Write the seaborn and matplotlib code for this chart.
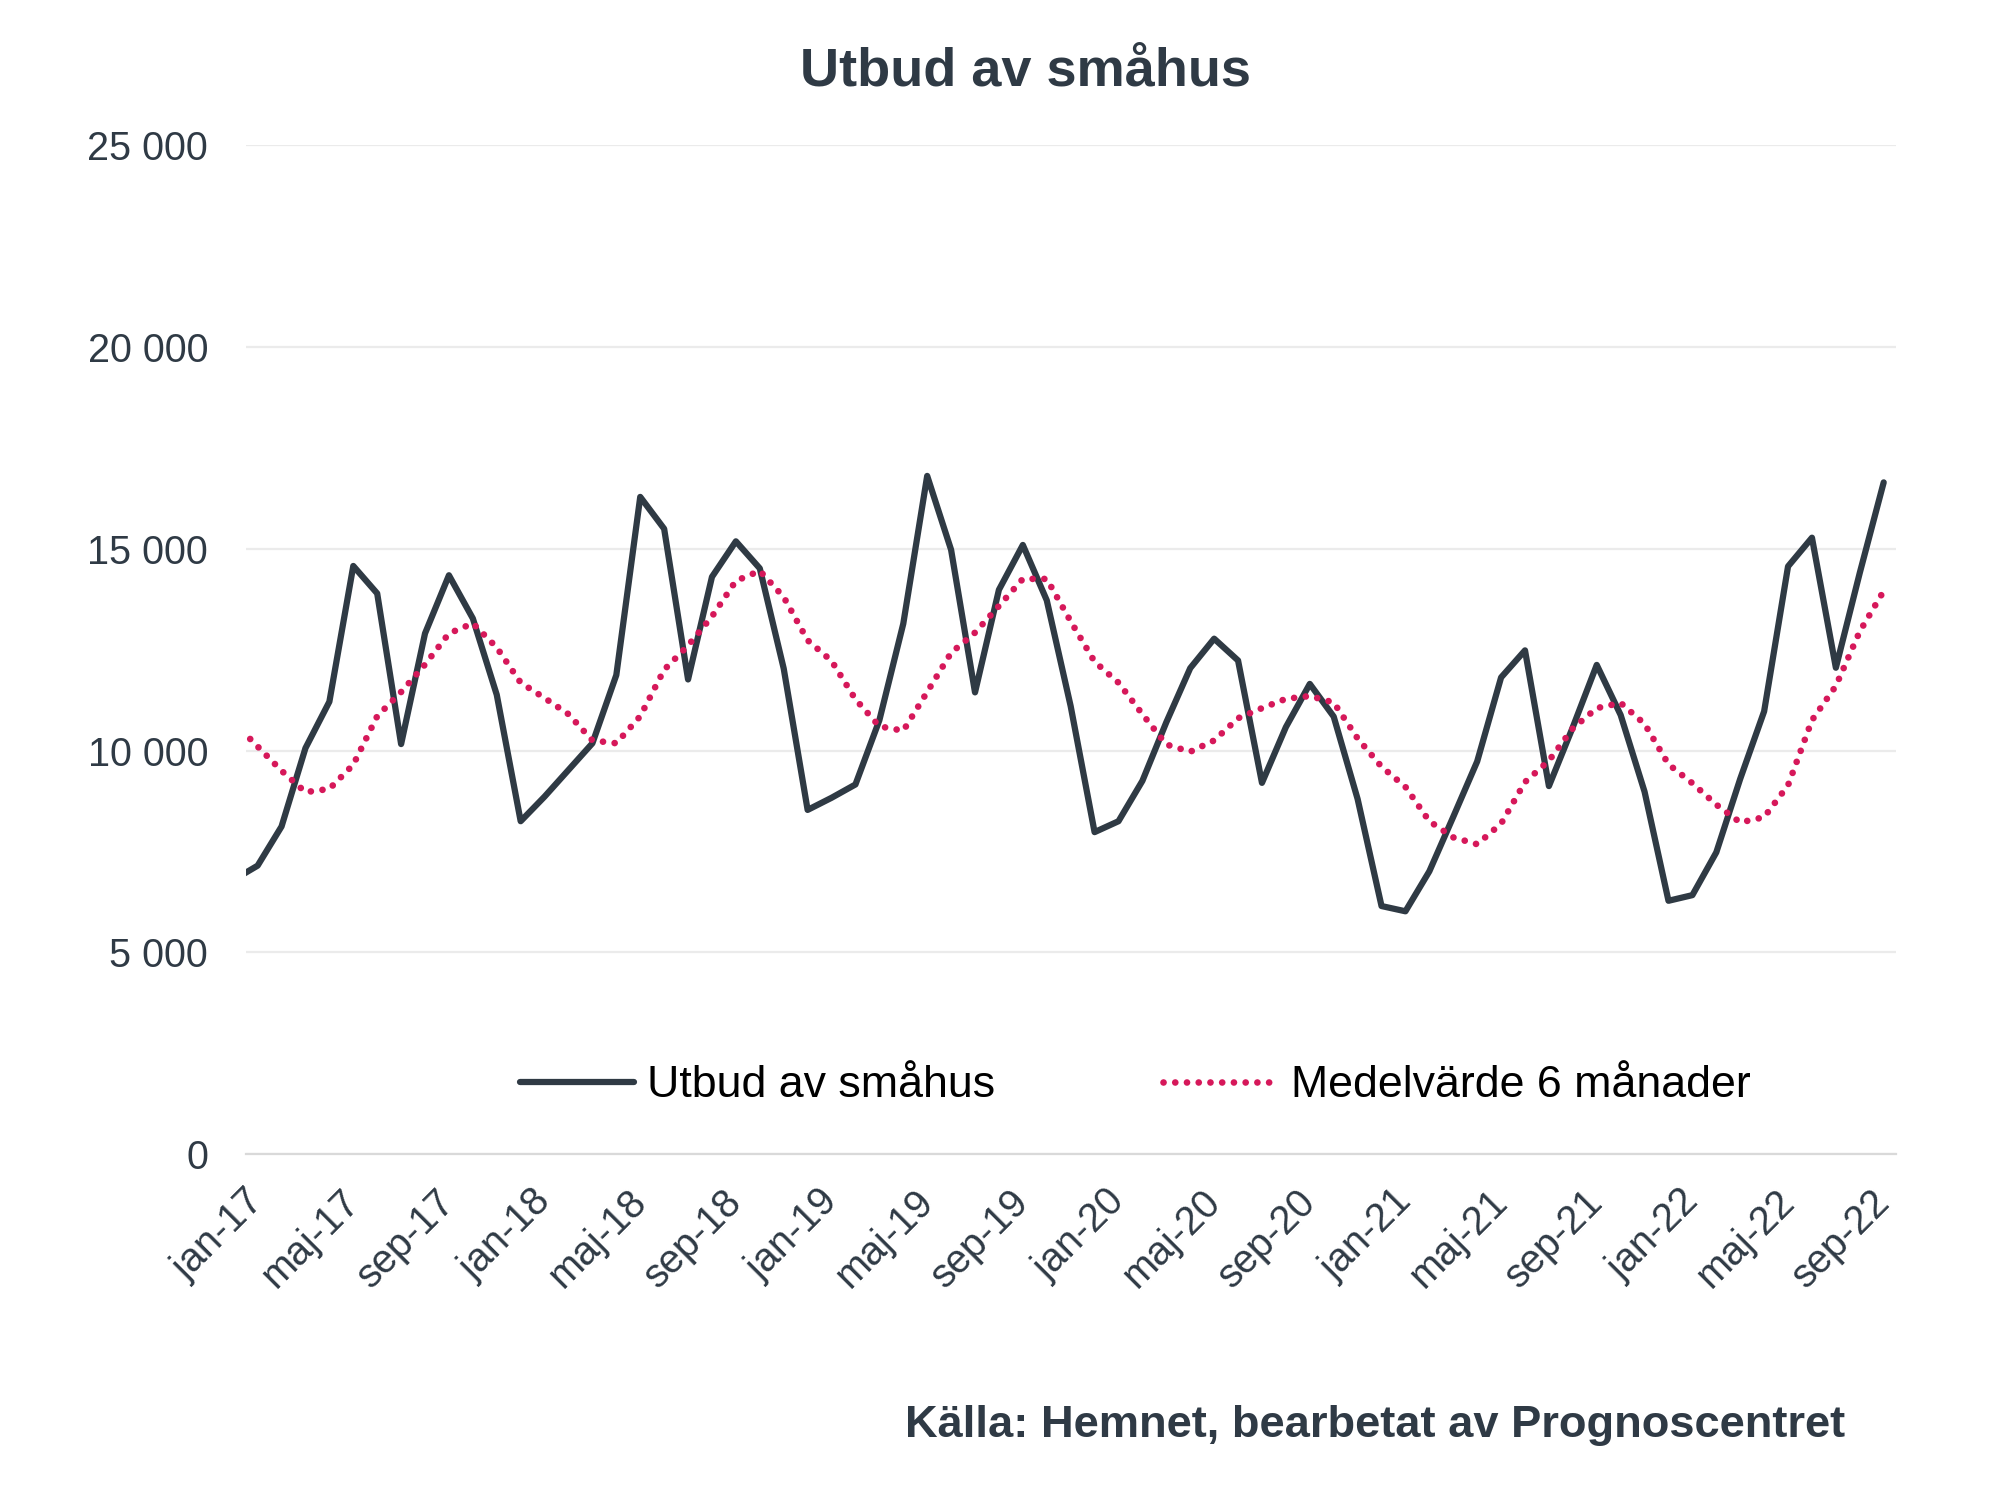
import matplotlib
matplotlib.use("Agg")
import matplotlib.pyplot as plt
import seaborn as sns
import pandas as pd

# Månader dec-16 .. sep-22 (dec-16 ligger utanför vänsterkanten och klipps)
month_names = ["jan", "feb", "mar", "apr", "maj", "jun",
               "jul", "aug", "sep", "okt", "nov", "dec"]
months = ["dec-16"] + [f"{m}-{y}" for y in range(17, 23) for m in month_names]
months = months[:70]

# Utbud av småhus
utbud = [
    6800,
    7150, 8120, 10060, 11210, 14570, 13890, 10160, 12900, 14340, 13270, 11380, 8250,
    8860, 9520, 10180, 11870, 16280, 15490, 11760, 14300, 15180, 14510, 12030, 8530,
    8830, 9160, 10750, 13140, 16800, 14970, 11440, 13980, 15090, 13720, 11100, 7980,
    8250, 9250, 10700, 12040, 12770, 12230, 9200, 10580, 11650, 10840, 8800, 6150,
    6020, 7010, 8360, 9730, 11810, 12480, 9120, 10580, 12120, 10880, 8980, 6280,
    6420, 7480, 9300, 10970, 14560, 15270, 12050, 14400, 16640,
]

# Medelvärde 6 månader
medel = [
    10700,
    10100, 9500, 8970, 9050, 9650, 10850, 11450, 12130, 12900, 13150, 12550, 11680,
    11300, 10900, 10250, 10180, 10850, 12000, 12600, 13320, 14200, 14450, 13800, 12730,
    12220, 11270, 10600, 10490, 11450, 12420, 12920, 13580, 14250, 14250, 13200, 12200,
    11680, 10900, 10150, 9970, 10250, 10800, 11050, 11280, 11350, 11190, 10300, 9600,
    9100, 8250, 7850, 7680, 8190, 9220, 9750, 10550, 11050, 11180, 10660, 9660,
    9190, 8660, 8220, 8350, 9140, 10750, 11600, 12950, 13950,
]

tick_labels = ["jan-17", "maj-17", "sep-17", "jan-18", "maj-18", "sep-18",
               "jan-19", "maj-19", "sep-19", "jan-20", "maj-20", "sep-20",
               "jan-21", "maj-21", "sep-21", "jan-22", "maj-22", "sep-22"]
y_ticks = [0, 5000, 10000, 15000, 20000, 25000]

text_color = "#2f3a45"
line_color = "#2f3a44"
dot_color = "#d6185a"
dot_style = (0, (0.01, 1.75))

df = pd.DataFrame({"pos": range(len(months)), "month": months,
                   "utbud": utbud, "medel": medel})

sns.set_style("white")
plt.rcParams["font.family"] = ["Liberation Sans", "DejaVu Sans"]

fig = plt.figure(figsize=(19.99, 14.89), dpi=100)
ax = fig.add_axes([0.1229, 0.2247, 0.8254, 0.6781])

sns.lineplot(data=df, x="pos", y="utbud", ax=ax, color=line_color,
             linewidth=4.5, label="Utbud av småhus")
sns.lineplot(data=df, x="pos", y="medel", ax=ax, color=dot_color,
             linewidth=4.8, label="Medelvärde 6 månader")
dot_line = ax.lines[1]
dot_line.set_linestyle(dot_style)
dot_line.set_dash_capstyle("round")

ax.set_xlim(0.5, 69.5)
ax.set_ylim(0, 25000)

tick_pos = [months.index(t) for t in tick_labels]
ax.set_xticks(tick_pos)
ax.set_xticklabels(tick_labels, rotation=45, ha="right", va="center",
                   rotation_mode="anchor", fontsize=28.5, color=text_color)
ax.set_yticks(y_ticks)
ax.set_yticklabels([f"{v:,}".replace(",", " ") for v in y_ticks],
                   fontsize=28.5, color=text_color)
ax.tick_params(axis="y", length=0, pad=27)
ax.tick_params(axis="x", length=0, pad=30)

ax.yaxis.grid(True, color="#ebebeb", linewidth=1.6)
ax.xaxis.grid(False)
for side in ["top", "right", "left"]:
    ax.spines[side].set_visible(False)
ax.spines["bottom"].set_color("#d9d9d9")
ax.spines["bottom"].set_linewidth(1.6)
ax.set_xlabel("")
ax.set_ylabel("")

leg = ax.legend(loc="center", bbox_to_anchor=(0.539, 0.068), ncol=2,
                frameon=False, fontsize=32.2, handlelength=2.55,
                handletextpad=0.3, columnspacing=3.75)
for t in leg.get_texts():
    t.set_color("black")
leg.get_lines()[0].set_linewidth(4.5)
leg.get_lines()[1].set_linewidth(4.8)
leg.get_lines()[1].set_linestyle(dot_style)
leg.get_lines()[1].set_dash_capstyle("round")

fig.text(1025 / 1999, 1 - 72 / 1489, "Utbud av småhus", ha="center",
         va="center", fontsize=39, fontweight="bold", color=text_color)
fig.text(1845 / 1999, 1 - 1425 / 1489,
         "Källa: Hemnet, bearbetat av Prognoscentret", ha="right",
         va="center", fontsize=32.6, fontweight="bold", color=text_color)

fig.savefig("out.png", dpi=100)
